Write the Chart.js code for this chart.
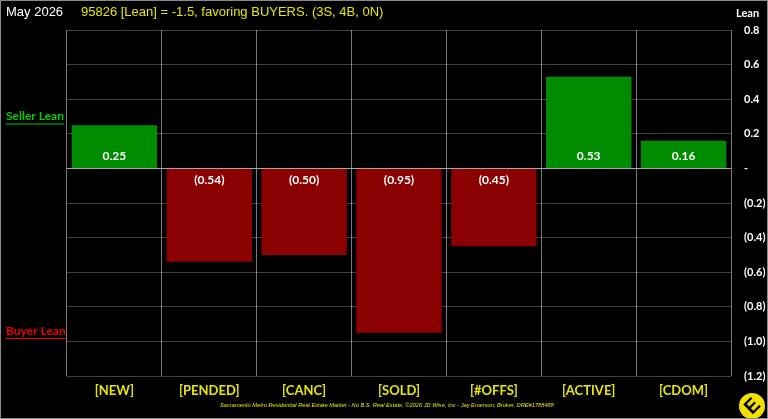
<!DOCTYPE html>
<html>
<head>
<meta charset="utf-8">
<script src="https://cdn.jsdelivr.net/npm/chart.js@4/dist/chart.umd.min.js"></script>
<style>
  html, body { margin: 0; padding: 0; background: #000; }
  #wrap { width: 768px; height: 419px; position: relative; }
</style>
</head>
<body>
<div id="wrap"><canvas id="grafico" width="768" height="419"></canvas></div>
<script>
// dados do grafico
var categorias = ['[NEW]', '[PENDED]', '[CANC]', '[SOLD]', '[#OFFS]', '[ACTIVE]', '[CDOM]'];
var valores = [0.25, -0.54, -0.50, -0.95, -0.45, 0.53, 0.16];
var ticksY = [0.8, 0.6, 0.4, 0.2, 0, -0.2, -0.4, -0.6, -0.8, -1.0, -1.2];
var mes = 'May 2026';
var titulo = '95826 [Lean] = -1.5, favoring BUYERS. (3S, 4B, 0N)';
var rodape = 'Sacramento Metro Residential Real Estate Market - No B.S. Real Estate, \u00a92026 JD Wise, Inc - Jay Emerson, Broker, DRE#1788488';

var verde = '#008C00';
var vermelho = '#8B0000';
var amarelo = '#E6E600';

var formatar = function(v){
  if (Math.abs(v) < 1e-9) return '-';
  var s = Math.abs(v).toFixed(1);
  return v < 0 ? '(' + s + ')' : s;
};

var cores = valores.map(function(v){ return v >= 0 ? verde : vermelho; });

// textos extras, rotulos, logo e borda
var extras = {
  id: 'extras',
  afterDatasetsDraw: function(chart){
    var ctx = chart.ctx;
    var y = chart.scales.y;
    var zero = y.getPixelForValue(0);
    var meta = chart.getDatasetMeta(0);
    ctx.save();
    ctx.font = 'bold 12px Lato';
    ctx.fillStyle = '#ffffff';
    ctx.textAlign = 'center';
    ctx.textBaseline = 'middle';
    meta.data.forEach(function(bar, i){
      var v = valores[i];
      var s = Math.abs(v).toFixed(2);
      var txt = v < 0 ? '(' + s + ')' : s;
      ctx.fillText(txt, bar.x, v >= 0 ? zero - 12 : zero + 12);
    });
    ctx.restore();
  },
  afterDraw: function(chart){
    var ctx = chart.ctx;
    var y = chart.scales.y;
    ctx.save();
    ctx.textBaseline = 'middle';
    ctx.textAlign = 'left';
    ctx.font = '13px "Liberation Sans"';
    ctx.fillStyle = '#ffffff';
    ctx.fillText(mes, 6, 12);
    ctx.fillStyle = amarelo;
    ctx.fillText(titulo, 81, 12);

    ctx.font = 'bold 11px Lato';
    ctx.fillStyle = '#ffffff';
    ctx.fillText('Lean', 736, 13);

    // seller / buyer
    var lados = [['Seller Lean', '#00CC00', y.getPixelForValue(0.30)], ['Buyer Lean', '#F00000', y.getPixelForValue(-0.94)]];
    ctx.font = 'bold 12px Lato';
    lados.forEach(function(l){
      ctx.fillStyle = l[1];
      ctx.fillText(l[0], 6, l[2]);
      var w = ctx.measureText(l[0]).width;
      ctx.fillRect(6, l[2] + 7, w, 1);
    });

    // rodape
    ctx.font = 'italic 5.7px "Liberation Sans"';
    ctx.fillStyle = amarelo;
    ctx.textAlign = 'center';
    ctx.fillText(rodape, 387, 405);

    // logo
    ctx.beginPath();
    ctx.arc(752, 406, 13, 0, Math.PI * 2);
    ctx.fillStyle = '#F2E000';
    ctx.fill();
    ctx.translate(752, 406);
    ctx.rotate(-Math.PI / 4);
    ctx.font = 'bold 20px "Liberation Sans"';
    ctx.fillStyle = '#000000';
    ctx.fillText('E', 0, 1);
    ctx.restore();

    // borda
    ctx.save();
    ctx.strokeStyle = '#8a8a8a';
    ctx.lineWidth = 1;
    ctx.strokeRect(0.5, 0.5, 767, 418);
    ctx.restore();
  }
};

var grafico = new Chart(document.getElementById('grafico'), {
  type: 'bar',
  data: {
    labels: categorias,
    datasets: [{
      data: valores,
      backgroundColor: cores,
      borderWidth: 0,
      barPercentage: 0.9,
      categoryPercentage: 1.0
    }]
  },
  options: {
    responsive: false,
    animation: false,
    devicePixelRatio: 1,
    layout: { padding: { left: 67, top: 30, right: 0, bottom: 0 } },
    plugins: {
      legend: { display: false },
      tooltip: { enabled: false }
    },
    scales: {
      x: {
        offset: true,
        grid: { offset: true, color: '#7a7a7a', lineWidth: 1, drawTicks: false },
        border: { display: false },
        ticks: { color: amarelo, font: { family: 'Lato', size: 13, weight: 'bold' }, padding: 7 },
        afterFit: function(scale){ scale.height = 43; }
      },
      y: {
        position: 'right',
        min: -1.2,
        max: 0.8,
        z: 1,
        afterBuildTicks: function(scale){
          scale.ticks = ticksY.map(function(v){ return { value: v }; });
        },
        afterFit: function(scale){ scale.width = 37; },
        grid: {
          drawTicks: false,
          color: function(c){ return Math.abs(c.tick.value) < 1e-9 ? '#a8a8a8' : 'rgba(255,255,255,0.25)'; },
          lineWidth: 1
        },
        border: { display: false },
        ticks: {
          color: '#ffffff',
          padding: 13,
          font: { family: 'Lato', size: 11, weight: 'bold' },
          callback: function(v){ return formatar(v); }
        }
      }
    }
  },
  plugins: [extras]
});
</script>
</body>
</html>
